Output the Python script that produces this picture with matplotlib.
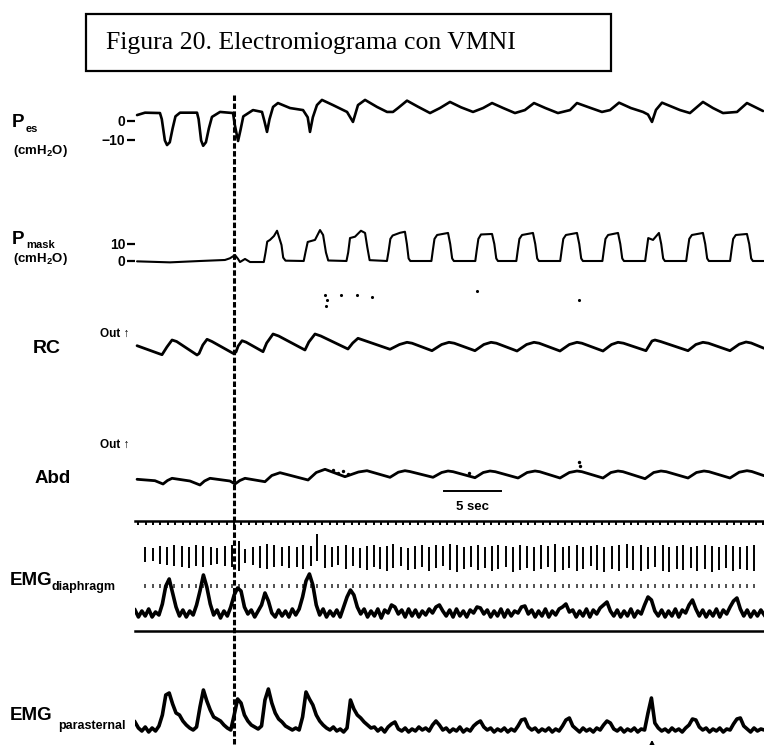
import numpy as np
import matplotlib
matplotlib.use("Agg")
import matplotlib.pyplot as plt
from matplotlib.patches import Rectangle

plt.rcParams['font.family'] = ['Liberation Sans', 'DejaVu Sans']
plt.rcParams['font.weight'] = 'bold'
plt.rcParams['mathtext.fontset'] = 'custom'
plt.rcParams['mathtext.rm'] = 'Liberation Sans:bold'
plt.rcParams['mathtext.default'] = 'rm'

# ---- data (time in s) ----
title = "Figura 20. Electromiograma con VMNI"
niv_onset = 8.68          # dashed line, start of ventilation
scale_start, scale_len = 27.1, 5

# oesophageal pressure, cmH2O
pes = [(0.18, 3.2), (0.88, 4.5), (2.19, 4.3), (2.35, 1.0), (2.62, -10.5), (2.81, -13.0),
       (3.05, -11.5), (3.30, -4.0), (3.55, 2.5), (3.95, 4.5), (5.44, 4.5), (5.58, 1.0),
       (5.80, -10.5), (5.98, -13.4), (6.22, -11.5), (6.48, -4.0), (6.75, 2.2), (7.46, 4.9),
       (8.60, 4.3), (8.75, -2.0), (9.04, -10.8), (9.25, -5.0), (9.50, 2.5), (10.35, 5.9),
       (11.14, 4.9), (11.35, 0.0), (11.58, -5.9), (11.80, 1.0), (12.11, 7.6), (12.54, 9.7),
       (13.60, 7.0), (14.74, 5.9), (15.15, 2.0), (15.35, -5.9), (15.60, 2.0), (15.96, 8.6),
       (16.40, 11.4), (17.37, 8.6), (18.60, 4.9), (19.12, -0.5), (19.56, 8.6), (20.18, 11.4),
       (21.23, 7.6), (22.11, 4.9), (22.63, 4.9), (23.07, 7.0), (23.86, 11.0), (24.8, 7.8),
       (25.88, 4.3), (26.75, 7.0), (27.63, 10.3), (28.6, 7.4), (29.65, 4.9), (30.53, 7.0),
       (31.32, 9.7), (32.3, 7.0), (33.33, 4.3), (34.20, 5.9), (35.00, 9.7), (36.0, 7.0),
       (37.10, 4.3), (38.16, 5.9), (38.77, 9.7), (39.9, 7.2), (40.96, 4.9), (41.67, 5.9),
       (42.46, 9.9), (43.5, 7.0), (44.56, 4.9), (45.0, 3.5), (45.35, -0.5), (45.70, 6.0),
       (46.23, 9.9), (47.81, 5.9), (48.68, 4.3), (49.82, 10.3), (50.7, 7.0), (51.58, 4.3),
       (52.81, 4.9), (53.68, 9.7), (55.09, 5.4)]

# mask pressure, cmH2O
pmask = [(0.18, -0.2), (3.07, -0.8), (5.70, 0.0), (7.89, 0.6), (8.33, 1.6), (8.77, 3.5),
         (9.04, 1.2), (9.21, -0.6), (9.65, 1.2), (10.09, -0.6), (11.30, -0.6),
         (11.45, 5.0), (11.60, 11.4), (11.84, 12.4), (12.19, 14.7), (12.46, 17.8), (12.66, 13.5),
         (12.85, 9.4), (13.00, 2.0), (13.20, 0.2), (14.80, 0.0),
         (14.95, 5.0), (15.15, 11.2), (15.79, 12.4), (16.23, 18.2), (16.50, 15.3), (16.75, 5.0),
         (16.95, 0.3), (18.55, 0.0),
         (18.70, 5.0), (18.86, 13.5), (19.30, 14.3), (19.82, 17.8), (20.18, 16.5), (20.38, 8.0),
         (20.58, 0.5), (22.10, 0.0),
         (22.25, 6.0), (22.40, 13.0), (22.60, 15.0), (23.25, 16.6), (23.68, 17.2), (23.85, 10.0),
         (24.00, 1.5), (24.15, 0.0), (26.00, 0.0),
         (26.12, 6.0), (26.27, 13.0), (26.50, 15.3), (27.46, 16.5), (27.65, 10.0), (27.82, 1.5),
         (27.97, 0.0), (29.85, 0.0),
         (29.97, 6.0), (30.12, 13.0), (30.35, 15.6), (31.32, 15.9), (31.52, 10.0), (31.69, 1.5),
         (31.84, 0.0), (33.45, 0.0),
         (33.57, 6.0), (33.72, 13.0), (33.95, 15.3), (34.91, 16.5), (35.11, 10.0), (35.28, 1.5),
         (35.43, 0.0), (37.30, 0.0),
         (37.42, 6.0), (37.57, 13.0), (37.80, 15.3), (38.77, 16.5), (38.97, 10.0), (39.14, 1.5),
         (39.29, 0.0), (41.00, 0.0),
         (41.12, 6.0), (41.27, 13.0), (41.50, 15.3), (42.37, 16.5), (42.57, 10.0), (42.74, 1.5),
         (42.89, 0.0), (44.75, 0.0),
         (44.87, 6.0), (45.02, 13.5), (45.44, 12.4), (45.96, 16.5), (46.16, 10.0), (46.33, 1.5),
         (46.48, 0.0), (48.35, 0.0),
         (48.47, 6.0), (48.62, 13.0), (48.85, 15.3), (49.82, 16.5), (50.02, 10.0), (50.19, 1.5),
         (50.34, 0.0), (52.20, 0.0),
         (52.32, 6.0), (52.47, 13.0), (52.70, 15.3), (53.68, 15.9), (53.88, 10.0), (54.05, 1.5),
         (54.20, 0.0), (55.18, 0.0)]

# rib cage and abdomen (uncalibrated, a.u.)
rc = [(0.18, 14.3), (2.19, 6.0), (2.37, 5.3), (2.80, 13.0), (3.25, 20.0), (3.65, 18.5),
      (5.44, 5.0), (5.62, 6.5), (5.95, 15.0), (6.32, 20.7), (6.75, 18.5),
      (8.60, 6.7), (8.86, 8.0), (9.05, 14.0), (9.39, 19.3), (9.75, 17.8),
      (11.23, 8.3), (11.55, 17.0), (12.11, 26.0), (12.60, 24.0),
      (14.91, 10.0), (15.25, 18.0), (15.79, 26.0), (16.30, 24.0),
      (18.68, 11.0), (19.10, 17.0), (19.56, 21.7), (20.00, 20.0),
      (22.37, 10.7), (23.20, 15.5), (23.86, 17.7), (24.30, 16.8),
      (26.05, 9.3), (26.90, 15.5), (27.54, 17.7), (28.00, 16.8),
      (29.82, 9.3), (30.60, 15.5), (31.23, 17.7), (31.70, 16.8),
      (33.51, 9.0), (34.35, 15.5), (35.00, 17.7), (35.45, 16.8),
      (37.28, 9.0), (38.10, 15.5), (38.77, 17.7), (39.20, 16.8),
      (41.05, 9.0), (41.80, 15.5), (42.37, 17.7), (42.85, 16.8),
      (44.82, 9.3), (45.35, 19.0), (45.61, 20.0), (46.10, 18.5),
      (48.51, 9.3), (49.20, 15.5), (49.82, 17.7), (50.30, 16.8),
      (52.19, 9.3), (53.00, 15.8), (53.60, 18.0), (54.05, 17.0), (55.18, 11.7)]

abd = [(0.18, 10.7), (1.75, 9.3), (2.46, 6.0), (2.85, 9.5), (3.25, 11.7), (4.82, 9.0),
       (5.70, 5.0), (6.10, 9.0), (6.58, 11.7), (8.33, 9.0), (8.77, 6.0), (9.20, 9.5),
       (9.65, 11.7), (11.40, 8.3), (12.00, 14.5), (12.72, 17.3), (15.18, 10.0), (15.90, 17.5),
       (16.67, 20.7), (18.42, 13.3), (19.60, 18.0), (20.35, 19.3), (22.37, 12.7), (23.10, 17.8),
       (23.68, 19.3), (24.10, 18.5), (26.14, 12.7), (26.90, 17.5), (27.46, 19.0), (27.90, 18.3),
       (29.82, 12.3), (30.55, 17.5), (31.14, 19.0), (31.60, 18.3), (33.60, 12.0), (34.40, 17.5),
       (35.09, 19.0), (35.50, 18.3), (37.28, 12.0), (38.10, 17.5), (38.77, 19.0), (39.20, 18.3),
       (41.05, 12.0), (41.75, 17.5), (42.37, 19.0), (42.80, 18.3), (44.74, 11.3), (45.50, 17.5),
       (46.14, 19.0), (46.60, 18.3), (48.51, 12.0), (49.25, 17.5), (49.91, 19.0), (50.35, 18.3),
       (52.19, 12.0), (53.00, 17.8), (53.68, 19.3), (54.10, 18.5), (55.18, 14.3)]

# specks of the scanned paper
rc_specks = [(16.67, 65), (16.84, 60), (16.76, 54), (18.07, 65), (19.47, 65), (20.79, 63),
             (30.0, 69), (38.95, 60)]
abd_specks = [(17.37, 20), (17.8, 17), (18.25, 19), (18.68, 16), (29.3, 17), (38.95, 28), (39.0, 24)]

# ECG artefact on the diaphragm channel: beat times, R top and S bottom (a.u.)
ecg_t = [0.88, 1.55, 2.19, 2.83, 3.45, 4.10, 4.74, 5.35, 5.99, 6.64, 7.22, 7.89, 8.48, 9.08,
         9.69, 10.32, 10.96, 11.61, 12.19, 12.87, 13.51, 14.18, 14.76, 15.41, 15.99, 16.67,
         17.25, 17.83, 18.48, 19.10, 19.74, 20.38, 20.96, 21.49, 22.08, 22.66, 23.31, 23.97,
         24.56, 25.15, 25.82, 26.40, 27.04, 27.63, 28.22, 28.86, 29.45, 30.11, 30.70, 31.32,
         31.87, 32.54, 33.13, 33.77, 34.36, 35.00, 35.61, 36.25, 36.84, 37.52, 38.10, 38.75,
         39.32, 39.97, 40.55, 41.17, 41.82, 42.48, 43.13, 43.71, 44.36, 44.97, 45.61, 46.29,
         46.87, 47.52, 48.10, 48.75, 49.32, 50.00, 50.59, 51.25, 51.84, 52.48, 53.07, 53.66,
         54.30, 54.89]
ecg_r = [84, 83, 85, 84, 86, 85, 84, 86, 85, 84, 83, 85, 86, 90, 82, 84, 85, 87, 86, 84,
         85, 84, 86, 85, 97, 86, 84, 85, 86, 84, 83, 85, 86, 84, 85, 87, 84, 83, 85, 86,
         84, 86, 85, 87, 86, 84, 85, 86, 84, 85, 86, 85, 84, 86, 85, 84, 86, 85, 87, 84,
         85, 86, 84, 85, 86, 84, 85, 86, 87, 85, 86, 84, 85, 86, 84, 85, 86, 84, 85, 86,
         85, 84, 86, 85, 84, 85, 86]
ecg_s = [69, 70, 67, 66, 65, 64, 63, 65, 64, 66, 67, 65, 64, 60, 68, 66, 63, 62, 64, 65,
         63, 64, 62, 65, 70, 63, 64, 66, 62, 65, 63, 61, 64, 62, 60, 63, 65, 61, 62, 64,
         60, 63, 65, 61, 59, 62, 64, 61, 63, 60, 62, 64, 59, 61, 63, 60, 62, 64, 59, 61,
         63, 60, 62, 65, 61, 59, 62, 60, 63, 61, 60, 62, 64, 60, 59, 62, 61, 63, 60, 62,
         59, 61, 63, 60, 62, 61, 60]

# integrated EMG, sampled every 0.3 s (a.u.)
emg_dt = 0.3
emg_dia = [21, 14, 20, 15, 22, 14, 19, 16, 27, 45,
           52, 38, 24, 15, 21, 14, 20, 16, 26, 40,
           56, 44, 27, 16, 21, 13, 20, 15, 24, 36,
           43, 40, 24, 17, 21, 14, 20, 26, 38, 30,
           18, 14, 21, 15, 20, 14, 22, 16, 22, 34,
           50, 57, 46, 26, 16, 22, 14, 20, 15, 21,
           14, 24, 34, 41, 36, 24, 17, 22, 14, 20,
           15, 22, 13, 21, 18, 26, 24, 17, 21, 14,
           22, 15, 21, 14, 20, 16, 22, 18, 24, 26,
           20, 15, 21, 14, 22, 15, 20, 14, 21, 18,
           24, 23, 17, 21, 14, 20, 15, 22, 14, 21,
           15, 20, 18, 24, 25, 17, 21, 14, 20, 15,
           22, 14, 20, 16, 22, 24, 27, 19, 21, 14,
           20, 15, 22, 14, 21, 17, 23, 26, 29, 20,
           15, 21, 14, 20, 15, 22, 14, 20, 17, 26,
           34, 31, 20, 15, 21, 14, 20, 15, 22, 14,
           21, 18, 26, 31, 22, 15, 21, 14, 20, 15,
           22, 14, 21, 17, 24, 30, 33, 22, 15, 21,
           14, 20, 15, 21, 16]
emg_para = [23, 17, 14, 18, 13, 17, 14, 19, 30, 50,
            52, 41, 32, 30, 24, 20, 17, 15, 18, 38,
            55, 44, 35, 28, 26, 24, 20, 17, 15, 30,
            46, 42, 30, 24, 20, 18, 16, 19, 45, 56,
            42, 32, 26, 23, 19, 17, 15, 17, 15, 28,
            53, 46, 40, 30, 24, 20, 17, 15, 18, 14,
            16, 13, 17, 45, 36, 30, 27, 23, 20, 17,
            18, 14, 17, 13, 18, 21, 23, 16, 14, 17,
            13, 16, 14, 18, 15, 17, 14, 20, 24, 20,
            15, 17, 13, 16, 14, 18, 13, 16, 14, 19,
            22, 24, 18, 15, 17, 13, 16, 14, 17, 13,
            16, 14, 19, 25, 26, 18, 15, 17, 13, 16,
            14, 17, 13, 16, 14, 19, 25, 27, 19, 16,
            13, 17, 14, 16, 13, 17, 15, 20, 24, 22,
            16, 14, 17, 13, 16, 14, 17, 13, 16, 15,
            32, 47, 22, 17, 14, 16, 13, 17, 14, 16,
            13, 17, 20, 26, 25, 18, 15, 17, 13, 16,
            14, 17, 13, 16, 15, 21, 26, 27, 19, 16,
            13, 17, 14, 16, 15]
marked_breath = 45.35     # arrow under the parasternal trace

# ---- layout ----
W, H = 764, 745
X0 = 135
SEC = 11.4                # chart pixels per second
T_END = (W - X0) / SEC

fig = plt.figure(figsize=(W / 100, H / 100), dpi=100)


def fp(x, y):
    return x / W, 1 - y / H


def panel(top, bottom, ylo, yhi):
    ax = fig.add_axes([X0 / W, 1 - bottom / H, (W - X0) / W, (bottom - top) / H])
    ax.set_xlim(0, T_END)
    ax.set_ylim(ylo, yhi)
    ax.patch.set_alpha(0)
    for s in ax.spines.values():
        s.set_visible(False)
    ax.set_xticks([])
    ax.set_yticks([])
    return ax


def trace(ax, pts, lw):
    t, v = zip(*pts)
    ax.plot(t, v, color='black', lw=lw, solid_joinstyle='round', solid_capstyle='round')


def yticks(ax, vals, labels):
    ax.set_yticks(vals)
    ax.set_yticklabels(labels)
    ax.tick_params(axis='y', length=6, width=1.6, pad=1, labelsize=10)


ax_pes = panel(90, 150, -(150 - 121) / 1.85, (121 - 90) / 1.85)
trace(ax_pes, pes, 1.9)
yticks(ax_pes, [0, -10], ['0', '\u221210'])

ax_pm = panel(220, 270, -(270 - 261) / 1.7, (261 - 220) / 1.7)
trace(ax_pm, pmask, 1.5)
yticks(ax_pm, [0, 10], ['0', '10'])

ax_rc = panel(285, 360, 0, 75)
trace(ax_rc, rc, 2.0)
ax_rc.scatter(*zip(*rc_specks), s=5, color='black', lw=0)

ax_abd = panel(455, 490, 0, 35)
trace(ax_abd, abd, 2.0)
ax_abd.scatter(*zip(*abd_specks), s=6, color='black', lw=0)

ax_dia = panel(520.5, 631, 0, 110.5)
for side in ('top', 'bottom'):
    ax_dia.spines[side].set_visible(True)
    ax_dia.spines[side].set_linewidth(1.8)
ax_dia.xaxis.set_ticks_position('top')
ax_dia.set_xticks(np.arange(0.3, T_END, 0.645))
ax_dia.tick_params(axis='x', direction='in', length=3, width=1.4,
                   labeltop=False, labelbottom=False)
n = min(len(ecg_t), len(ecg_r), len(ecg_s))
ax_dia.vlines(ecg_t[:n], ecg_s[:n], ecg_r[:n], color='black', lw=1.4)
ax_dia.vlines(ecg_t[:n], 43, 47, color='black', lw=1.2, alpha=0.8)
ax_dia.plot(np.arange(len(emg_dia)) * emg_dt, emg_dia, color='black', lw=2.6,
            solid_joinstyle='round')

ax_par = panel(670, 745, 0, 75)
ax_par.plot(np.arange(len(emg_para)) * emg_dt, emg_para, color='black', lw=2.6,
            solid_joinstyle='round')

# overlay in chart time (x) and pixel rows (y)
ov = fig.add_axes([0, 0, 1, 1])
ov.set_xlim(-X0 / SEC, T_END)
ov.set_ylim(H, 0)
ov.set_axis_off()
ov.patch.set_alpha(0)
ov.plot([niv_onset, niv_onset], [95, 745], color='black', lw=2.2,
        linestyle=(0, (1.8, 0.8)))
ov.plot([scale_start, scale_start + scale_len], [491, 491], color='black', lw=1.4)
ov.text(scale_start + scale_len / 2, 510, '%d sec' % scale_len, ha='center',
        va='baseline', size=9.5)
ov.annotate('', xy=(marked_breath, 737), xytext=(marked_breath, 747),
            arrowprops=dict(arrowstyle='-|>', color='black', lw=1.4, mutation_scale=8))

# channel labels
fig.text(*fp(12, 127), 'P', size=13.5, va='baseline')
fig.text(*fp(26, 132), 'es', size=8, va='baseline')
fig.text(*fp(13, 154), '(cmH$_2$O)', size=9.5, va='baseline')
fig.text(*fp(12, 244), 'P', size=13.5, va='baseline')
fig.text(*fp(26, 248), 'mask', size=8, va='baseline')
fig.text(*fp(13, 262), '(cmH$_2$O)', size=9.5, va='baseline')
fig.text(*fp(33, 353), 'RC', size=14, va='baseline')
fig.text(*fp(100, 337), 'Out \u2191', size=8.5, va='baseline')
fig.text(*fp(100, 448), 'Out \u2191', size=8.5, va='baseline')
fig.text(*fp(35, 483), 'Abd', size=13.5, va='baseline')
fig.text(*fp(10, 585), 'EMG', size=13.5, va='baseline')
fig.text(*fp(51, 590), 'diaphragm', size=9, va='baseline')
fig.text(*fp(10, 720), 'EMG', size=13.5, va='baseline')
fig.text(*fp(58, 729), 'parasternal', size=9, va='baseline')

# caption box
fig.add_artist(Rectangle(fp(86, 71), (611 - 86) / W, (71 - 14) / H,
                         transform=fig.transFigure, fill=False, lw=1.6, color='black'))
fig.text(*fp(106, 49), title, family='Liberation Serif', weight='normal',
         size=18.5, va='baseline')

fig.savefig('out.png', dpi=100)
